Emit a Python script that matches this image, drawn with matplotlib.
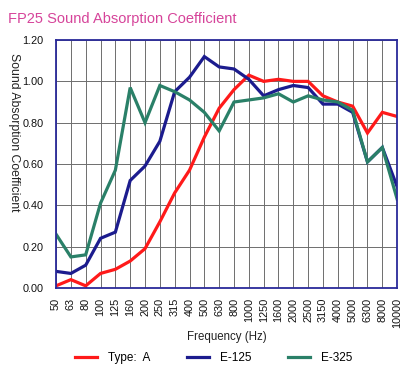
import matplotlib
matplotlib.use("Agg")
import matplotlib.pyplot as plt
import numpy as np

plt.rcParams['font.family'] = ['Liberation Sans', 'DejaVu Sans']

# Frequências (Hz) e coeficientes de absorção
freqs = ['50', '63', '80', '100', '125', '160', '200', '250', '315', '400', '500', '630',
         '800', '1000', '1250', '1600', '2000', '2500', '3150', '4000', '5000', '6300',
         '8000', '10000']
type_a = [0.01, 0.04, 0.01, 0.07, 0.09, 0.13, 0.19, 0.32, 0.46, 0.57, 0.73, 0.87,
          0.96, 1.03, 1.00, 1.01, 1.00, 1.00, 0.93, 0.90, 0.88, 0.75, 0.85, 0.83]
e_125 = [0.08, 0.07, 0.11, 0.24, 0.27, 0.52, 0.59, 0.71, 0.95, 1.02, 1.12, 1.07,
         1.06, 1.01, 0.93, 0.96, 0.98, 0.97, 0.89, 0.89, 0.85, 0.61, 0.68, 0.49]
e_325 = [0.26, 0.15, 0.16, 0.41, 0.57, 0.97, 0.80, 0.98, 0.95, 0.91, 0.85, 0.76,
         0.90, 0.91, 0.92, 0.94, 0.90, 0.93, 0.91, 0.90, 0.86, 0.61, 0.68, 0.43]
series_names = ['Type:  A', 'E-125', 'E-325']
series_colors = ['#ff1a1a', '#1c1c8e', '#2a8068']

fig = plt.figure(figsize=(4.09, 3.71), dpi=100)
ax = fig.add_axes([0.137, 0.224, 0.834, 0.668])

x = np.arange(len(freqs))
for vals, nome, cor in zip([type_a, e_125, e_325], series_names, series_colors):
    ax.plot(x, vals, color=cor, linewidth=2.3, label=nome, solid_joinstyle='miter')

ax.set_xlim(0, len(freqs) - 1)
ax.set_ylim(0, 1.2)
ax.set_xticks(x)
ax.set_xticklabels(freqs, rotation=90, fontsize=7.8, color='#111111')
ax.set_yticks(np.arange(0, 1.21, 0.2))
ax.set_yticklabels(['%.2f' % v for v in np.arange(0, 1.21, 0.2)], fontsize=7.8,
                   color='#111111')
ax.tick_params(axis='y', length=0, pad=9)
ax.tick_params(axis='x', length=0, pad=7)
ax.grid(True, color='#6e6e6e', linewidth=0.7)
ax.set_axisbelow(True)
for s in ax.spines.values():
    s.set_color('#2a2a9a')
    s.set_linewidth(1.3)

ax.set_xlabel('Frequency (Hz)', fontsize=8.3, labelpad=2, color='#222222')
ax.set_ylabel('Sound Absorption Coefficient', fontsize=8.8, rotation=270,
              color='#222222', va='center')
ax.yaxis.set_label_coords(-0.123, 0.63)

fig.text(0.02, 0.95, 'FP25 Sound Absorption Coefficient', fontsize=10.5,
         color='#d6449a', va='center')

fig.legend(loc='center', bbox_to_anchor=(0.522, 0.035), ncol=3, frameon=False,
           fontsize=8.5, handlelength=1.9, columnspacing=3.1, handletextpad=0.9)

fig.savefig('out.png', dpi=100)
